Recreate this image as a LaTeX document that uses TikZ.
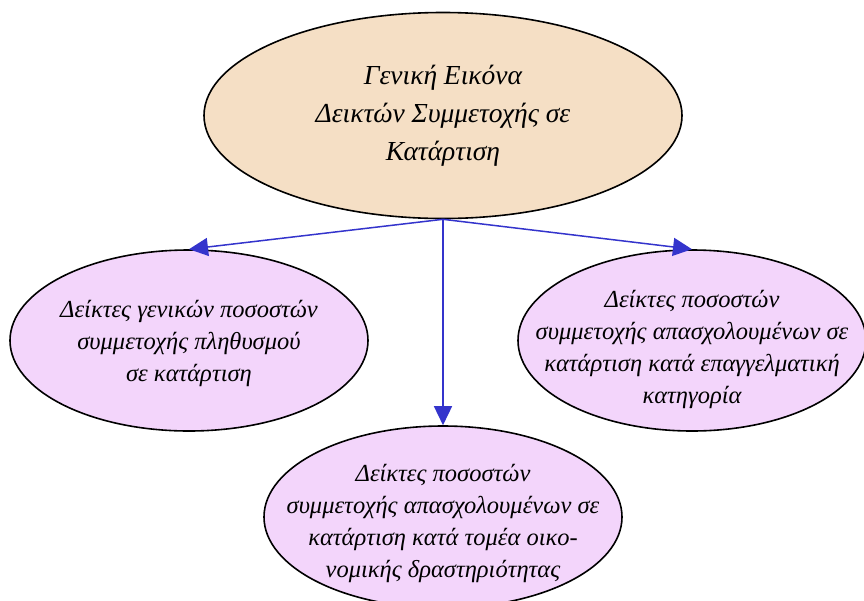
\documentclass[tikz,border=0pt]{standalone}
\usepackage{fontspec}
\setmainfont{Liberation Serif}
\usetikzlibrary{shapes.geometric,arrows.meta}
\definecolor{topfill}{RGB}{245,223,197}
\definecolor{subfill}{RGB}{243,213,251}
\definecolor{arrowblue}{RGB}{52,52,204}
\tikzset{
  bubble/.style={ellipse, draw=black, line width=1.6pt, inner sep=0pt},
  toptext/.style={align=center, font=\itshape\fontsize{27.5}{38}\selectfont},
  subtext/.style={align=center, font=\itshape\fontsize{24.5}{32}\selectfont},
  link/.style={draw=arrowblue, line width=1.5pt, -{Triangle[length=19pt,width=18pt]}}
}
\begin{document}
\begin{tikzpicture}[x=1pt,y=-1pt]
\useasboundingbox (0,0) rectangle (864,600);
\node[bubble, fill=topfill, minimum width=478pt, minimum height=206pt] (top) at (443,115.5) {};
\node[bubble, fill=subfill, minimum width=358pt, minimum height=181pt] (left) at (189,340.5) {};
\node[bubble, fill=subfill, minimum width=348pt, minimum height=181pt] (right) at (692,340.5) {};
\node[bubble, fill=subfill, minimum width=358pt, minimum height=182pt] (bottom) at (443,517) {};
\node[toptext] (ttop) at (443,116) {Γενική Εικόνα\\Δεικτών Συμμετοχής σε\\Κατάρτιση};
\node[subtext] (tleft) at (189,343.5) {Δείκτες γενικών ποσοστών\\συμμετοχής πληθυσμού\\σε κατάρτιση};
\node[subtext] (tright) at (692,349) {Δείκτες ποσοστών\\συμμετοχής απασχολουμένων σε\\κατάρτιση κατά επαγγελματική\\κατηγορία};
\node[subtext] (tbottom) at (443,523) {Δείκτες ποσοστών\\συμμετοχής απασχολουμένων σε\\κατάρτιση κατά τομέα οικο-\\νομικής δραστηριότητας};
\coordinate (src) at (top.south);
\draw[link] (src) -- (left.north);
\draw[link] (src) -- (right.north);
\draw[link] (src) -- (bottom.north);
\end{tikzpicture}
\end{document}
